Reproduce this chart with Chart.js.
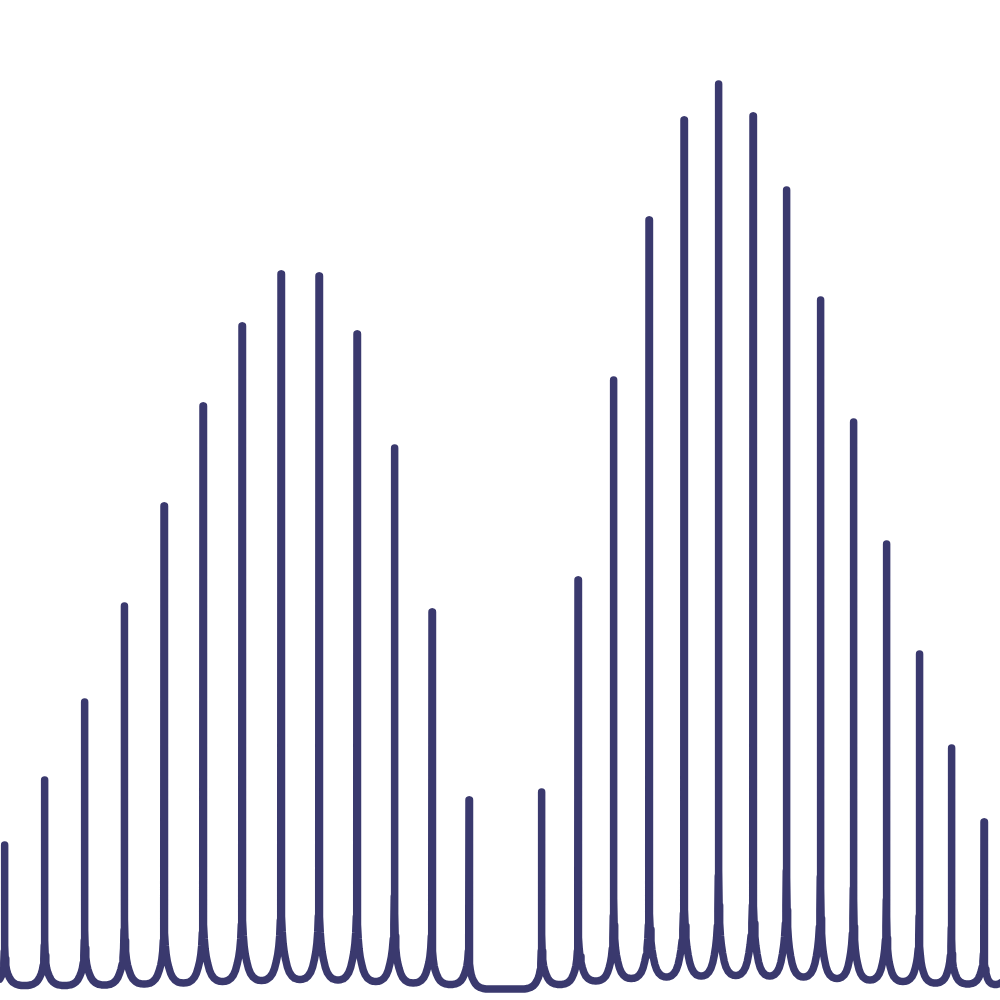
<!DOCTYPE html>
<html>
<head>
<meta charset="utf-8">
<script src="https://cdn.jsdelivr.net/npm/chart.js@4/dist/chart.umd.min.js"></script>
<style>
  html, body { margin: 0; padding: 0; background: #ffffff; }
  #wrap { width: 1000px; height: 1000px; position: relative; }
</style>
</head>
<body>
<div id="wrap"><canvas id="c"></canvas></div>
<script>
// Peak positions (x) and peak intensities (y)
// (first and last entries are the partly visible neighbours just outside the frame)
const peakX = [-35, 4.5, 44.5, 84.5, 124.3, 164, 203, 242, 281, 319, 357, 394.5, 432, 469,
               541.5, 578, 613.5, 649, 684, 718.5, 753, 786.5, 820.5, 853.5, 886.5, 919.3, 951.5, 984, 1007];
const peakY = [110, 155, 220, 298, 394, 494, 594, 674, 726, 724, 666, 552, 388, 200,
               208, 420, 620, 780, 880, 916, 884, 810, 700, 578, 456, 346, 252, 178, 126];
// Bottom level of each valley between consecutive peaks
const valleyY = [13.5,
                 14.5, 14.5, 15, 16, 17, 18.5, 19.5, 20.5, 20, 18.5, 17, 15.5,
                 11,
                 15.5, 19, 21.5, 23, 24, 24.5, 24, 23, 21.5, 20, 18.5, 17, 16,
                 15.5];
// Height over which the peak feet spread out into each valley
const valleyDepth = [35,
                     40, 45, 55, 65, 75, 85, 90, 95, 95, 85, 70, 50,
                     38,
                     50, 65, 80, 95, 100, 105, 105, 100, 90, 80, 65, 55, 45,
                     40];
// Foot outline: position across the half-valley (1 = at the peak) and relative rise
const footU = [0.985, 0.964, 0.933, 0.887, 0.831, 0.759, 0.667, 0.564, 0.436, 0.282, 0.128];
const footH = [1.0, 0.667, 0.5, 0.378, 0.289, 0.211, 0.133, 0.078, 0.039, 0.013, 0.002];
const maxHalfValley = 19.5;

const points = [];
for (let i = 0; i < peakX.length; i++) {
  if (i > 0) {
    const w = Math.min((peakX[i] - peakX[i - 1]) / 2, maxHalfValley);
    const v = valleyY[i - 1], b = valleyDepth[i - 1];
    for (let k = footU.length - 1; k >= 0; k--) {
      points.push({ x: peakX[i] - w * (1 - footU[k]), y: v + b * footH[k] });
    }
  }
  points.push({ x: peakX[i], y: peakY[i] });
  if (i < peakX.length - 1) {
    const w = Math.min((peakX[i + 1] - peakX[i]) / 2, maxHalfValley);
    const v = valleyY[i], b = valleyDepth[i];
    for (let k = 0; k < footU.length; k++) {
      points.push({ x: peakX[i] + w * (1 - footU[k]), y: v + b * footH[k] });
    }
    points.push({ x: peakX[i] + w, y: v });
    if (peakX[i + 1] - peakX[i] > 2 * w + 0.01) {
      points.push({ x: peakX[i + 1] - w, y: v });
    }
  }
}

new Chart(document.getElementById('c'), {
  type: 'line',
  data: {
    datasets: [{
      data: points,
      borderColor: '#3a396e',
      borderWidth: 7.5,
      borderJoinStyle: 'round',
      borderCapStyle: 'round',
      pointRadius: 0,
      pointHoverRadius: 0,
      tension: 0,
      fill: false
    }]
  },
  options: {
    responsive: true,
    maintainAspectRatio: false,
    animation: false,
    layout: { padding: 0 },
    plugins: { legend: { display: false }, tooltip: { enabled: false } },
    scales: {
      x: { type: 'linear', min: 0, max: 1000, display: false },
      y: { type: 'linear', min: 0, max: 1000, display: false }
    }
  }
});
</script>
</body>
</html>
